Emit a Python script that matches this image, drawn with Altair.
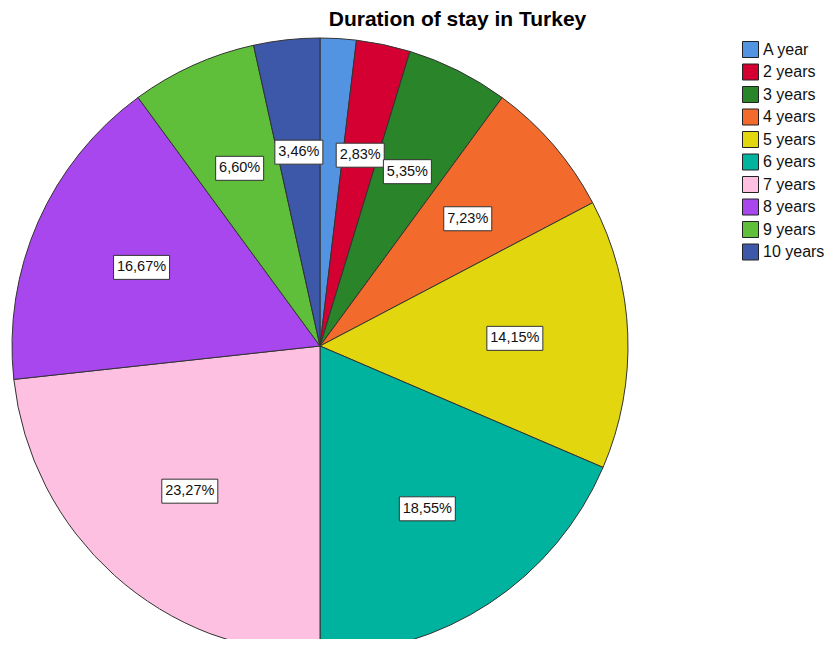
import altair as alt
import pandas as pd

categories = ["A year", "2 years", "3 years", "4 years", "5 years",
              "6 years", "7 years", "8 years", "9 years", "10 years"]
percentages = [1.89, 2.83, 5.35, 7.23, 14.15, 18.55, 23.27, 16.67, 6.60, 3.46]
colors = ["#5294E2", "#D50032", "#2A852A", "#F26B2C", "#E2D70F",
          "#00B39F", "#FDC0E0", "#A847EE", "#5FBF3A", "#3D58A8"]

df = pd.DataFrame({"cat": categories, "pct": percentages,
                   "idx": list(range(len(categories)))})

CX, CY, R, LR = 312, 308, 308, 195
FONT = "Liberation Sans"

base = alt.Chart(df)

pie = base.mark_arc(outerRadius=R, stroke="#333333", strokeWidth=1).encode(
    theta=alt.Theta("pct:Q", stack=True),
    color=alt.Color("cat:N", sort=categories,
                    scale=alt.Scale(domain=categories, range=colors),
                    legend=alt.Legend(title=None, orient="none", legendX=734, legendY=3,
                                      symbolType="square", symbolSize=256,
                                      symbolStrokeColor="#222222", symbolStrokeWidth=1,
                                      labelFont=FONT, labelFontSize=16, labelColor="#111111",
                                      labelOffset=4, rowPadding=1.5, padding=0)),
    order=alt.Order("idx:Q"),
    x=alt.value(CX),
    y=alt.value(CY),
)

lab = base.transform_joinaggregate(
    total="sum(pct)"
).transform_window(
    cum="sum(pct)", sort=[alt.SortField("idx")], frame=[None, 0]
).transform_calculate(
    mid="(datum.cum - datum.pct/2) / datum.total * 2 * PI",
    bx=f"{CX} + {LR} * sin(datum.mid)",
    by=f"{CY} - {LR} * cos(datum.mid)",
    lab="replace(format(datum.pct, '.2f'), '.', ',') + '%'",
    w="8 * length(datum.lab) + 8",
    x1="datum.bx - datum.w / 2",
    x2="datum.bx + datum.w / 2",
    y1="datum.by - 12",
    y2="datum.by + 12",
).transform_filter("datum.pct >= 2")

boxes = lab.mark_rect(fill="white", stroke="#333333", strokeWidth=1).encode(
    x=alt.X("x1:Q", scale=None, axis=None),
    x2="x2:Q",
    y=alt.Y("y1:Q", scale=None, axis=None),
    y2="y2:Q",
)

texts = lab.mark_text(font=FONT, fontSize=14.5, color="#111111",
                      align="center", baseline="middle").encode(
    x=alt.X("bx:Q", scale=None, axis=None),
    y=alt.Y("by:Q", scale=None, axis=None),
    text="lab:N",
)

chart = alt.layer(pie, boxes, texts).properties(
    width=817, height=601,
    autosize="none",
    padding={"top": 30, "left": 0, "right": 0, "bottom": 0},
    title=alt.TitleParams("Duration of stay in Turkey", font=FONT, fontSize=21,
                          fontWeight="bold", color="#000000", anchor="middle",
                          frame="group", dx=41, dy=21, offset=10, baseline="alphabetic"),
).configure_view(stroke=None)

chart.save("out.html", embed_options={"renderer": "svg", "actions": False})
